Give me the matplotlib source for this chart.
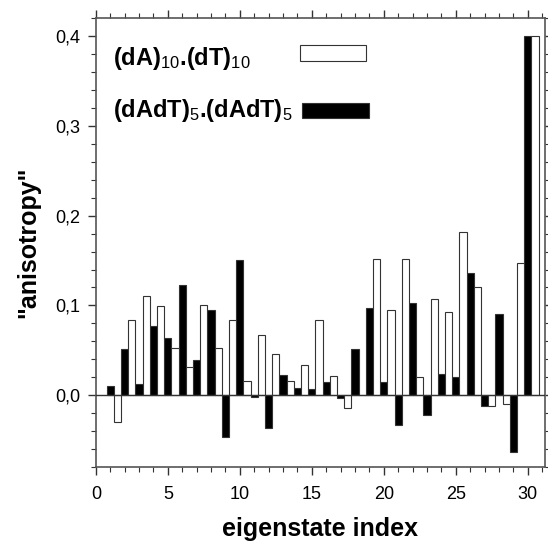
import matplotlib.pyplot as plt
from matplotlib.ticker import MultipleLocator, FuncFormatter
from matplotlib.patches import Rectangle

plt.rcParams['font.family'] = ['Liberation Sans', 'DejaVu Sans']
plt.rcParams['mathtext.fontset'] = 'custom'
plt.rcParams['mathtext.rm'] = 'Liberation Sans'
plt.rcParams['mathtext.it'] = 'Liberation Sans'
plt.rcParams['mathtext.bf'] = 'Liberation Sans:bold'

index = list(range(1, 31))
# (dA)10.(dT)10 - white bars
da_dt = [-0.030, 0.084, 0.111, 0.099, 0.052, 0.031, 0.100, 0.053, 0.084, 0.016,
         0.067, 0.046, 0.016, 0.034, 0.084, 0.021, -0.014, 0.0, 0.152, 0.095,
         0.152, 0.020, 0.107, 0.093, 0.182, 0.120, -0.012, -0.010, 0.147, 0.400]
# (dAdT)5.(dAdT)5 - black bars
dadt = [0.010, 0.051, 0.012, 0.077, 0.064, 0.123, 0.039, 0.095, -0.047, 0.151,
        -0.002, -0.037, 0.022, 0.008, 0.007, 0.014, -0.003, 0.051, 0.097, 0.014,
        -0.033, 0.103, -0.022, 0.023, 0.020, 0.136, -0.012, 0.090, -0.063, 0.400]

fig = plt.figure(figsize=(5.48, 5.44), dpi=100)
ax = fig.add_axes([0.175, 0.142, 0.8195, 0.824])

w = 0.5
ax.bar([i - 0.25 for i in index], dadt, width=w, align='edge', color='black',
       edgecolor='#333333', linewidth=0.8, zorder=2)
ax.bar([i + 0.25 for i in index], da_dt, width=w, align='edge', color='white',
       edgecolor='#333333', linewidth=0.8, zorder=2)

ax.axhline(0, color='#333333', linewidth=1.0, zorder=3)

ax.set_xlim(0, 31.2)
ax.set_ylim(-0.08, 0.42)
ax.xaxis.set_major_locator(MultipleLocator(5))
ax.xaxis.set_minor_locator(MultipleLocator(1))
ax.yaxis.set_major_locator(MultipleLocator(0.1))
ax.yaxis.set_minor_locator(MultipleLocator(0.02))
ax.yaxis.set_major_formatter(FuncFormatter(lambda v, p: f"{v:.1f}".replace('.', ',')))
ax.tick_params(which='both', direction='out', top=True, right=True,
               color='#333333', labelsize=13)
ax.tick_params(which='major', length=6, width=1)
ax.tick_params(which='minor', length=3.6, width=0.8)
ax.tick_params(axis='x', which='major', pad=8)
ax.tick_params(axis='y', which='major', pad=5)
for s in ax.spines.values():
    s.set_color('#555555')
    s.set_linewidth(1.2)

ax.set_xlabel('eigenstate index', fontsize=18, fontweight='bold', labelpad=10)
ax.set_ylabel('"anisotropy"', fontsize=18, fontweight='bold', labelpad=11)

# legend drawn as labels with sample boxes
ax.text(0.038, 0.897, r'(dA)$_{10}$.(dT)$_{10}$', transform=ax.transAxes,
        fontsize=17, fontweight='bold', va='baseline', ha='left')
ax.add_patch(Rectangle((0.454, 0.906), 0.147, 0.035, transform=ax.transAxes,
                       facecolor='white', edgecolor='#333333', linewidth=0.8))
ax.text(0.038, 0.781, r'(dAdT)$_{5}$.(dAdT)$_{5}$', transform=ax.transAxes,
        fontsize=17, fontweight='bold', va='baseline', ha='left')
ax.add_patch(Rectangle((0.46, 0.778), 0.148, 0.034, transform=ax.transAxes,
                       facecolor='black', edgecolor='#333333', linewidth=0.8))

plt.savefig('out.png', dpi=100)
